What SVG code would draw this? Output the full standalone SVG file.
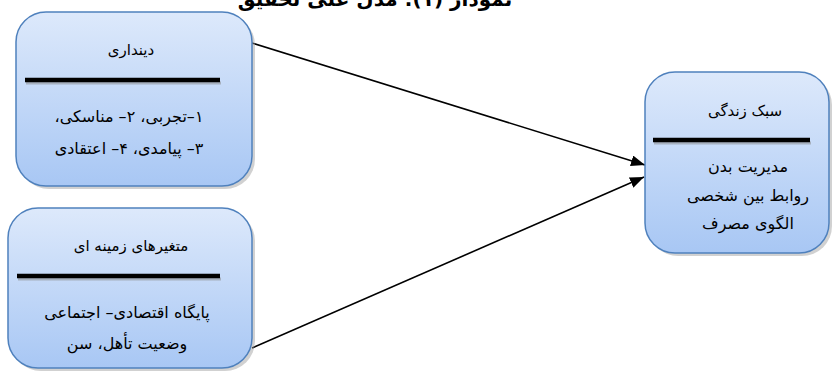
<svg xmlns="http://www.w3.org/2000/svg" width="832" height="374" viewBox="0 0 832 374">
<style>
.box{fill:url(#g);stroke:#4f81bd;stroke-width:1.5}
.shadow{fill:#9a9a9a;opacity:0.45}
.t{font-family:"DejaVu Sans","Noto Sans",sans-serif;font-size:16px;fill:#000;text-anchor:middle;direction:rtl}
.h{font-size:15px}
.bar{stroke:#000;stroke-width:4.5}
.barsh{stroke:#888;stroke-width:3;opacity:0.5}
.conn{stroke:#000;stroke-width:1.6;fill:none;marker-end:url(#ah)}
.title{font-family:"DejaVu Sans","Noto Sans",sans-serif;font-size:20px;font-weight:bold;text-anchor:middle;direction:rtl}
</style>
<defs>
<linearGradient id="g" x1="0" y1="0" x2="0" y2="1">
<stop offset="0" stop-color="#dde9fb"/>
<stop offset="1" stop-color="#a8c7f4"/>
</linearGradient>
<marker id="ah" markerWidth="14" markerHeight="11" refX="14" refY="5.5" orient="auto" markerUnits="userSpaceOnUse" viewBox="0 0 14 11">
<path d="M0,0 L14,5.5 L0,11 z" fill="#000"/>
</marker>
</defs>
<rect width="832" height="374" fill="#fff"/>
<text class="title" x="375" y="6">نمودار (۱): مدل علی تحقیق</text>
<g id="connectors">
<line class="conn" x1="252" y1="43" x2="645" y2="165"/>
<line class="conn" x1="252" y1="348" x2="644" y2="177"/>
</g>
<g id="n1">
<rect class="shadow" x="19" y="15" width="236" height="174" rx="30"/>
<rect class="box" x="16" y="12" width="236" height="174" rx="30"/>
<line class="barsh" x1="26" y1="83" x2="221" y2="83"/>
<line class="bar" x1="25" y1="80" x2="220" y2="80"/>
<text class="t h" x="131" y="55">دینداری</text>
<text class="t" x="129" y="122">۱–تجربی، ۲– مناسکی،</text>
<text class="t" x="129" y="154">۳– پیامدی، ۴– اعتقادی</text>
</g>
<g id="n2">
<rect class="shadow" x="11" y="211" width="244" height="160" rx="30"/>
<rect class="box" x="8" y="208" width="244" height="160" rx="30"/>
<line class="barsh" x1="18" y1="279" x2="221" y2="279"/>
<line class="bar" x1="17" y1="276" x2="220" y2="276"/>
<text class="t h" x="131" y="251">متغیرهای زمینه ای</text>
<text class="t" x="127" y="318">پایگاه اقتصادی– اجتماعی</text>
<text class="t" x="127" y="349">وضعیت تأهل، سن</text>
</g>
<g id="n3">
<rect class="shadow" x="648" y="75" width="184" height="181" rx="30"/>
<rect class="box" x="645" y="72" width="184" height="181" rx="30"/>
<line class="barsh" x1="654" y1="143" x2="811" y2="143"/>
<line class="bar" x1="653" y1="140" x2="810" y2="140"/>
<text class="t h" x="745" y="116">سبک زندگی</text>
<text class="t" x="748" y="172">مدیریت بدن</text>
<text class="t" x="748" y="201">روابط بین شخصی</text>
<text class="t" x="748" y="229">الگوی مصرف</text>
</g>
</svg>
